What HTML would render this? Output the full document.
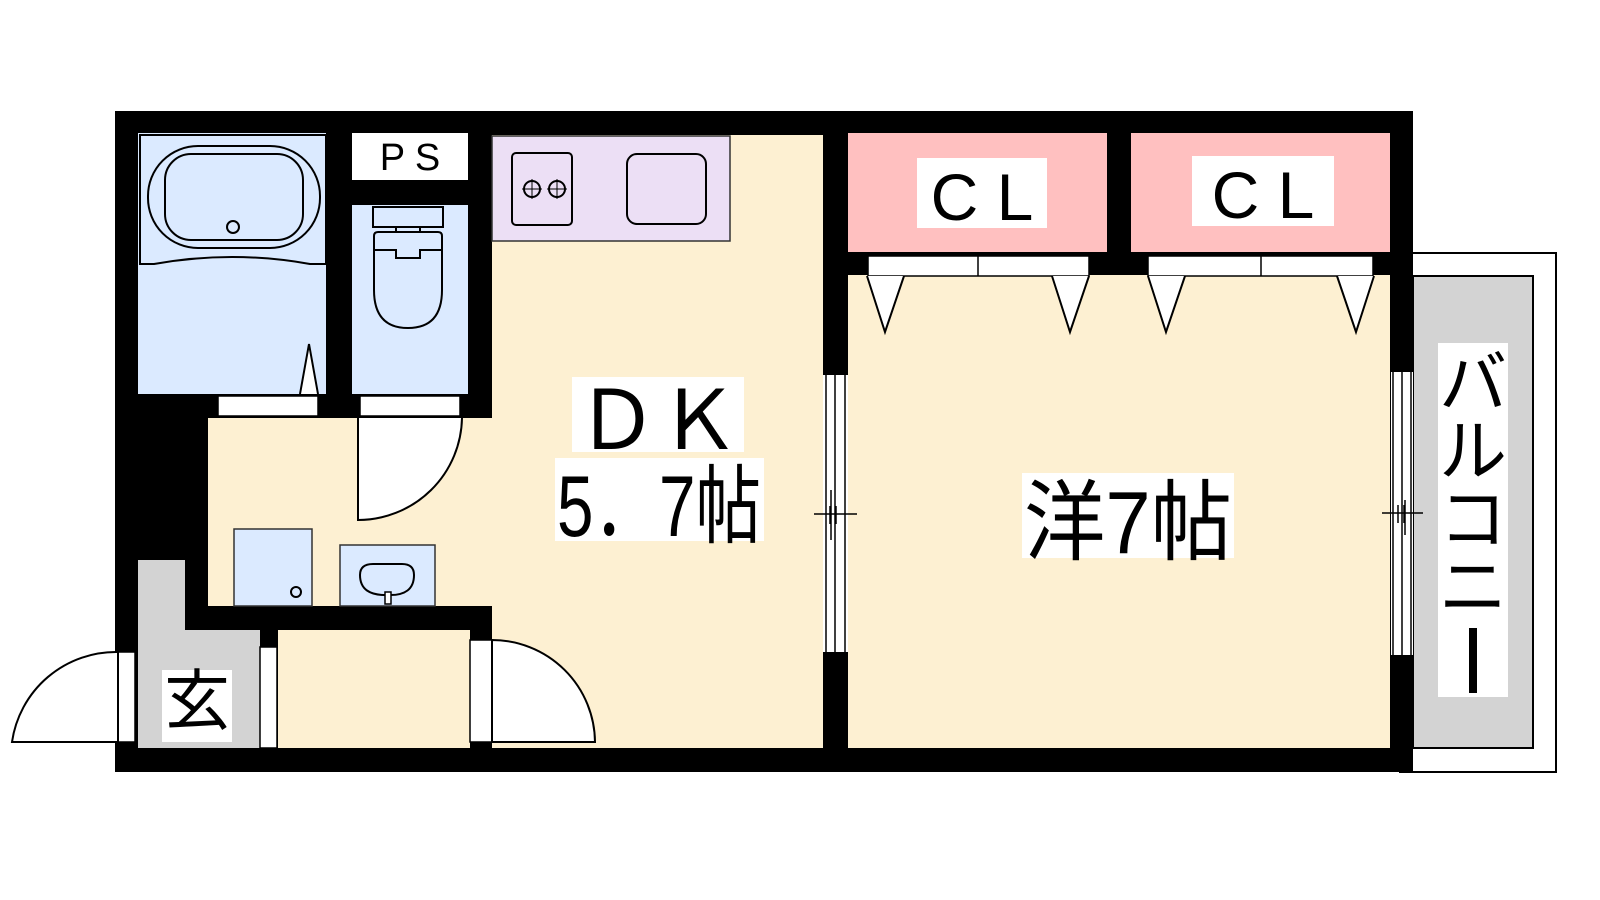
<!DOCTYPE html>
<html><head><meta charset="utf-8"><style>
html,body{margin:0;padding:0;background:#fff;}
svg{display:block;}
text{font-family:"Liberation Sans","Noto Sans CJK JP",sans-serif;fill:#000;}
</style></head><body>
<svg width="1600" height="900" viewBox="0 0 1600 900" xmlns="http://www.w3.org/2000/svg">
<rect x="1400" y="253" width="156" height="519" fill="#fff" stroke="#000" stroke-width="2"/>
<rect x="1413" y="276" width="120" height="472" fill="#d3d3d3" stroke="#000" stroke-width="2"/>
<rect x="115" y="111" width="1298" height="661" fill="#000"/>
<rect x="492" y="135" width="331" height="613" fill="#fdf0d2"/>
<rect x="208" y="418" width="290" height="188" fill="#fdf0d2"/>
<rect x="278" y="630" width="192" height="118" fill="#fdf0d2"/>
<rect x="848" y="275" width="542" height="473" fill="#fdf0d2"/>
<rect x="138" y="133" width="188" height="261" fill="#dbeaff"/>
<path d="M140 135 H326 V264 H310 Q232 250 154 264 H140 Z" fill="none" stroke="#000" stroke-width="2"/>
<rect x="148" y="146" width="172" height="102" rx="50" fill="none" stroke="#000" stroke-width="2"/>
<rect x="165" y="154" width="138" height="86" rx="26" fill="none" stroke="#000" stroke-width="2"/>
<circle cx="233" cy="227" r="6" fill="none" stroke="#000" stroke-width="2"/>
<rect x="352" y="133" width="116" height="47" fill="#fff"/>
<text x="410" y="170" font-size="38" text-anchor="middle">P S</text>
<rect x="352" y="205" width="116" height="189" fill="#dbeaff"/>
<rect x="373" y="207" width="70" height="20" fill="none" stroke="#000" stroke-width="2"/>
<rect x="396" y="227" width="24" height="5" fill="none" stroke="#000" stroke-width="2"/>
<path d="M374 236 Q374 232 378 232 H438 Q442 232 442 236 V290 Q442 328 408 328 Q374 328 374 290 Z" fill="none" stroke="#000" stroke-width="2"/>
<path d="M374 250 H396 V258 H420 V250 H442" fill="none" stroke="#000" stroke-width="2"/>
<rect x="218" y="396" width="100" height="20" fill="#fff" stroke="#000" stroke-width="1.5"/>
<rect x="360" y="396" width="100" height="20" fill="#fff" stroke="#000" stroke-width="1.5"/>
<path d="M300 394 L309 344 L318 394" fill="#fff" stroke="#000" stroke-width="2"/>
<path d="M358 418 V520 A104 104 0 0 0 462 418" fill="#fff" stroke="#000" stroke-width="2"/>
<rect x="492" y="136" width="238" height="105" fill="#ecdff5" stroke="#333" stroke-width="1.5"/>
<rect x="512" y="153" width="60" height="72" rx="4" fill="none" stroke="#000" stroke-width="2"/>
<circle cx="532" cy="189" r="8" fill="none" stroke="#000" stroke-width="2"/>
<circle cx="557" cy="189" r="8" fill="none" stroke="#000" stroke-width="2"/>
<path d="M522 189h20M532 179v20M547 189h20M557 179v20" stroke="#000" stroke-width="1"/>
<rect x="627" y="154" width="79" height="70" rx="10" fill="none" stroke="#000" stroke-width="2"/>
<rect x="234" y="529" width="78" height="77" fill="#dbeaff" stroke="#333" stroke-width="1.5"/>
<circle cx="296" cy="592" r="5" fill="none" stroke="#000" stroke-width="2"/>
<rect x="340" y="545" width="95" height="61" fill="#dbeaff" stroke="#333" stroke-width="1.5"/>
<path d="M388 595 Q360 596 360 575 Q360 564 373 564 H402 Q414 564 414 575 Q414 596 388 595 Z" fill="none" stroke="#000" stroke-width="2"/>
<rect x="385" y="592" width="6" height="12" fill="#fff" stroke="#000" stroke-width="1.5"/>
<rect x="138" y="560" width="47" height="188" fill="#d3d3d3"/>
<rect x="138" y="630" width="122" height="118" fill="#d3d3d3"/>
<rect x="162" y="670" width="70" height="72" fill="#fff"/>
<text x="197" y="724" font-size="66" text-anchor="middle">玄</text>
<rect x="260" y="647" width="17" height="101" fill="#fff" stroke="#000" stroke-width="1.5"/>
<rect x="118" y="652" width="17" height="90" fill="#fff" stroke="#000" stroke-width="1.5"/>
<path d="M118 652 A105 105 0 0 0 12 742 H118 Z" fill="#fff" stroke="#000" stroke-width="2"/>
<rect x="470" y="640" width="22" height="102" fill="#fff" stroke="#000" stroke-width="1.5"/>
<path d="M492 640 A103 103 0 0 1 595 742 H492 Z" fill="#fff" stroke="#000" stroke-width="2"/>
<rect x="823" y="375" width="25" height="277" fill="#fff"/>
<path d="M826 375V652M835 375V652M845 375V652M831 490V540" stroke="#000" stroke-width="1.5"/>
<path d="M814 514H857M830 506V524M836 506V524" stroke="#000" stroke-width="1.5"/>
<rect x="848" y="133" width="259" height="119" fill="#ffc0c0"/>
<rect x="1131" y="133" width="259" height="119" fill="#ffc0c0"/>
<rect x="917" y="158" width="130" height="70" fill="#fff"/>
<rect x="1192" y="156" width="142" height="70" fill="#fff"/>
<text x="982" y="220" font-size="66" text-anchor="middle">C L</text>
<text x="1263" y="218" font-size="66" text-anchor="middle">C L</text>
<rect x="868" y="256" width="221" height="20" fill="#fff" stroke="#000" stroke-width="1.5"/>
<path d="M978 256V276" stroke="#000" stroke-width="1.5"/>
<rect x="1148" y="256" width="225" height="20" fill="#fff" stroke="#000" stroke-width="1.5"/>
<path d="M1261 256V276" stroke="#000" stroke-width="1.5"/>
<g fill="#fff" stroke="#000" stroke-width="2">
<path d="M867 276L885 332L904 276"/><path d="M1052 276L1070 332L1089 276"/>
<path d="M1148 276L1166 332L1185 276"/><path d="M1337 276L1356 332L1374 276"/>
</g>
<rect x="1391" y="372" width="22" height="283" fill="#fff"/>
<path d="M1393 372V655M1402 372V655M1411 372V655M1405 500V535" stroke="#000" stroke-width="1.5"/>
<path d="M1382 513H1423M1398 505V523M1404 505V523" stroke="#000" stroke-width="1.5"/>
<rect x="572" y="377" width="172" height="75" fill="#fff"/>
<text x="658" y="449" font-size="82" text-anchor="middle">ＤＫ</text>
<rect x="555" y="458" width="209" height="83" fill="#fff"/>
<text x="557" y="536" font-size="86" textLength="204" lengthAdjust="spacingAndGlyphs">5．7帖</text>
<rect x="1022" y="473" width="212" height="85" fill="#fff"/>
<text x="1024" y="553" font-size="88" textLength="208" lengthAdjust="spacingAndGlyphs">洋7帖</text>
<rect x="1438" y="343" width="70" height="354" fill="#fff"/>
<text x="1473" y="407" font-size="68" text-anchor="middle">バ</text>
<text x="1473" y="475" font-size="68" text-anchor="middle">ル</text>
<text x="1473" y="543" font-size="68" text-anchor="middle">コ</text>
<text x="1473" y="611" font-size="68" text-anchor="middle">ニ</text>
<rect x="1469" y="628" width="8" height="65" fill="#000"/>
</svg>
</body></html>
